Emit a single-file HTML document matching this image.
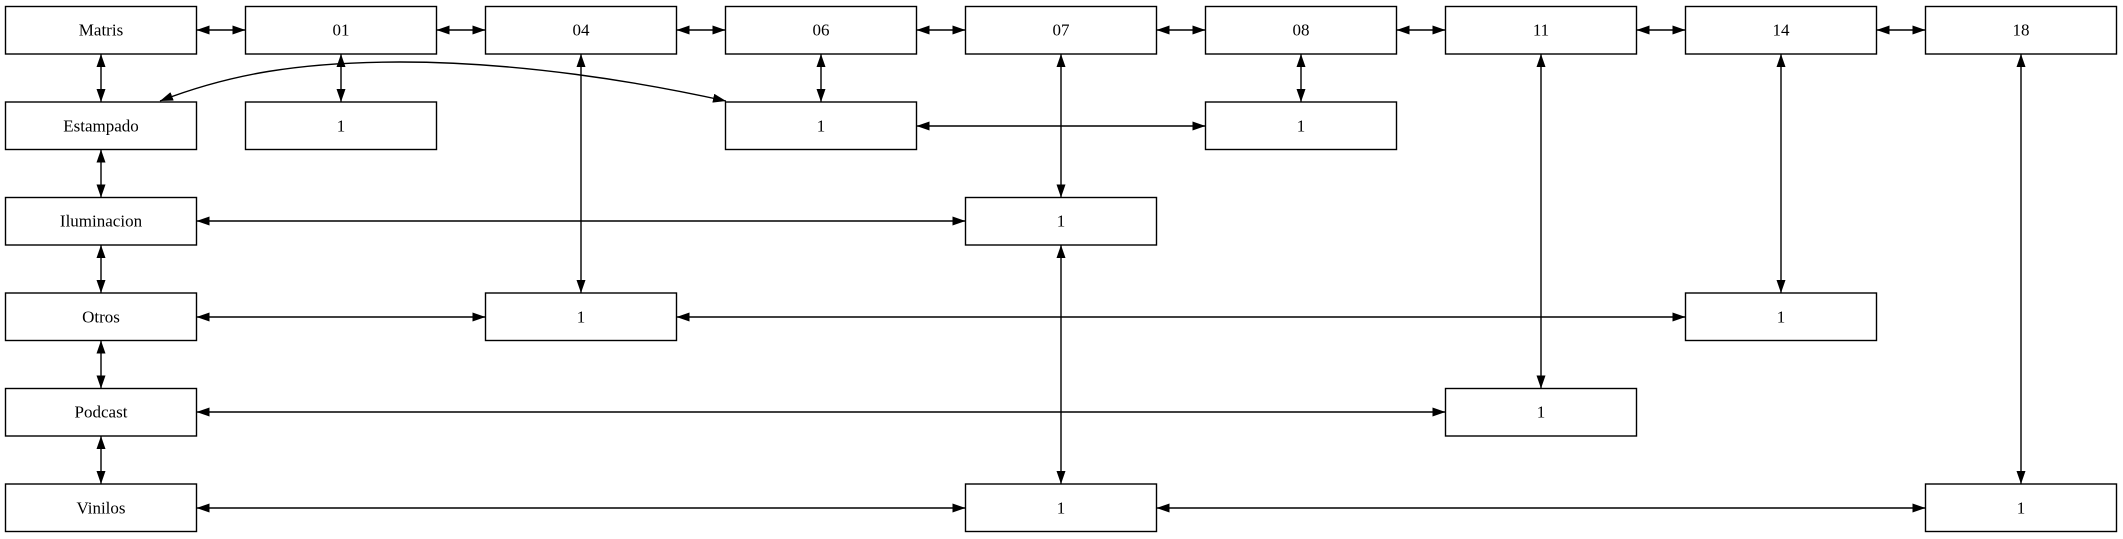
<!DOCTYPE html>
<html><head><meta charset="utf-8"><style>
html,body{margin:0;padding:0;background:#fff;}
svg{display:block;}
text{font-family:"Liberation Serif",serif;font-size:17px;fill:#000;text-anchor:middle;dominant-baseline:central;}
rect{fill:#fff;stroke:#000;stroke-width:1.4;}
.e{stroke:#000;stroke-width:1.4;fill:none;marker-start:url(#a);marker-end:url(#a);}
</style></head><body>
<svg width="2123" height="539" viewBox="0 0 2123 539" xmlns="http://www.w3.org/2000/svg">
<defs><marker id="a" markerUnits="userSpaceOnUse" markerWidth="14" markerHeight="10" refX="13" refY="4.5" orient="auto-start-reverse"><path d="M0,0 L13,4.5 L0,9 z" fill="#000"/></marker></defs>
<path class="e" d="M196.5,30 H245.5"/>
<path class="e" d="M436.5,30 H485.5"/>
<path class="e" d="M676.5,30 H725.5"/>
<path class="e" d="M916.5,30 H965.5"/>
<path class="e" d="M1156.5,30 H1205.5"/>
<path class="e" d="M1396.5,30 H1445.5"/>
<path class="e" d="M1636.5,30 H1685.5"/>
<path class="e" d="M1876.5,30 H1925.5"/>
<path class="e" d="M101,54 V102"/>
<path class="e" d="M101,149.5 V197.5"/>
<path class="e" d="M101,245 V293"/>
<path class="e" d="M101,340.5 V388.5"/>
<path class="e" d="M101,436 V484"/>
<path class="e" d="M341,54 V102"/>
<path class="e" d="M581,54 V293"/>
<path class="e" d="M821,54 V102"/>
<path class="e" d="M1061,54 V197.5"/>
<path class="e" d="M1061,245 V484"/>
<path class="e" d="M1301,54 V102"/>
<path class="e" d="M1541,54 V388.5"/>
<path class="e" d="M1781,54 V293"/>
<path class="e" d="M2021,54 V484"/>
<path class="e" d="M916.5,126 H1205.5"/>
<path class="e" d="M196.5,221 H965.5"/>
<path class="e" d="M196.5,317 H485.5"/>
<path class="e" d="M676.5,317 H1685.5"/>
<path class="e" d="M196.5,412 H1445.5"/>
<path class="e" d="M196.5,508 H965.5"/>
<path class="e" d="M1156.5,508 H1925.5"/>
<path class="e" d="M160,101 C230,74 300,62 400,62 C520,62 640,82 726,101"/>
<rect x="5.5" y="6.5" width="191" height="47.5"/><text x="101" y="30">Matris</text>
<rect x="245.5" y="6.5" width="191" height="47.5"/><text x="341" y="30">01</text>
<rect x="485.5" y="6.5" width="191" height="47.5"/><text x="581" y="30">04</text>
<rect x="725.5" y="6.5" width="191" height="47.5"/><text x="821" y="30">06</text>
<rect x="965.5" y="6.5" width="191" height="47.5"/><text x="1061" y="30">07</text>
<rect x="1205.5" y="6.5" width="191" height="47.5"/><text x="1301" y="30">08</text>
<rect x="1445.5" y="6.5" width="191" height="47.5"/><text x="1541" y="30">11</text>
<rect x="1685.5" y="6.5" width="191" height="47.5"/><text x="1781" y="30">14</text>
<rect x="1925.5" y="6.5" width="191" height="47.5"/><text x="2021" y="30">18</text>
<rect x="5.5" y="102" width="191" height="47.5"/><text x="101" y="126">Estampado</text>
<rect x="245.5" y="102" width="191" height="47.5"/><text x="341" y="126">1</text>
<rect x="725.5" y="102" width="191" height="47.5"/><text x="821" y="126">1</text>
<rect x="1205.5" y="102" width="191" height="47.5"/><text x="1301" y="126">1</text>
<rect x="5.5" y="197.5" width="191" height="47.5"/><text x="101" y="221">Iluminacion</text>
<rect x="965.5" y="197.5" width="191" height="47.5"/><text x="1061" y="221">1</text>
<rect x="5.5" y="293" width="191" height="47.5"/><text x="101" y="317">Otros</text>
<rect x="485.5" y="293" width="191" height="47.5"/><text x="581" y="317">1</text>
<rect x="1685.5" y="293" width="191" height="47.5"/><text x="1781" y="317">1</text>
<rect x="5.5" y="388.5" width="191" height="47.5"/><text x="101" y="412">Podcast</text>
<rect x="1445.5" y="388.5" width="191" height="47.5"/><text x="1541" y="412">1</text>
<rect x="5.5" y="484" width="191" height="47.5"/><text x="101" y="508">Vinilos</text>
<rect x="965.5" y="484" width="191" height="47.5"/><text x="1061" y="508">1</text>
<rect x="1925.5" y="484" width="191" height="47.5"/><text x="2021" y="508">1</text>
</svg>
</body></html>
